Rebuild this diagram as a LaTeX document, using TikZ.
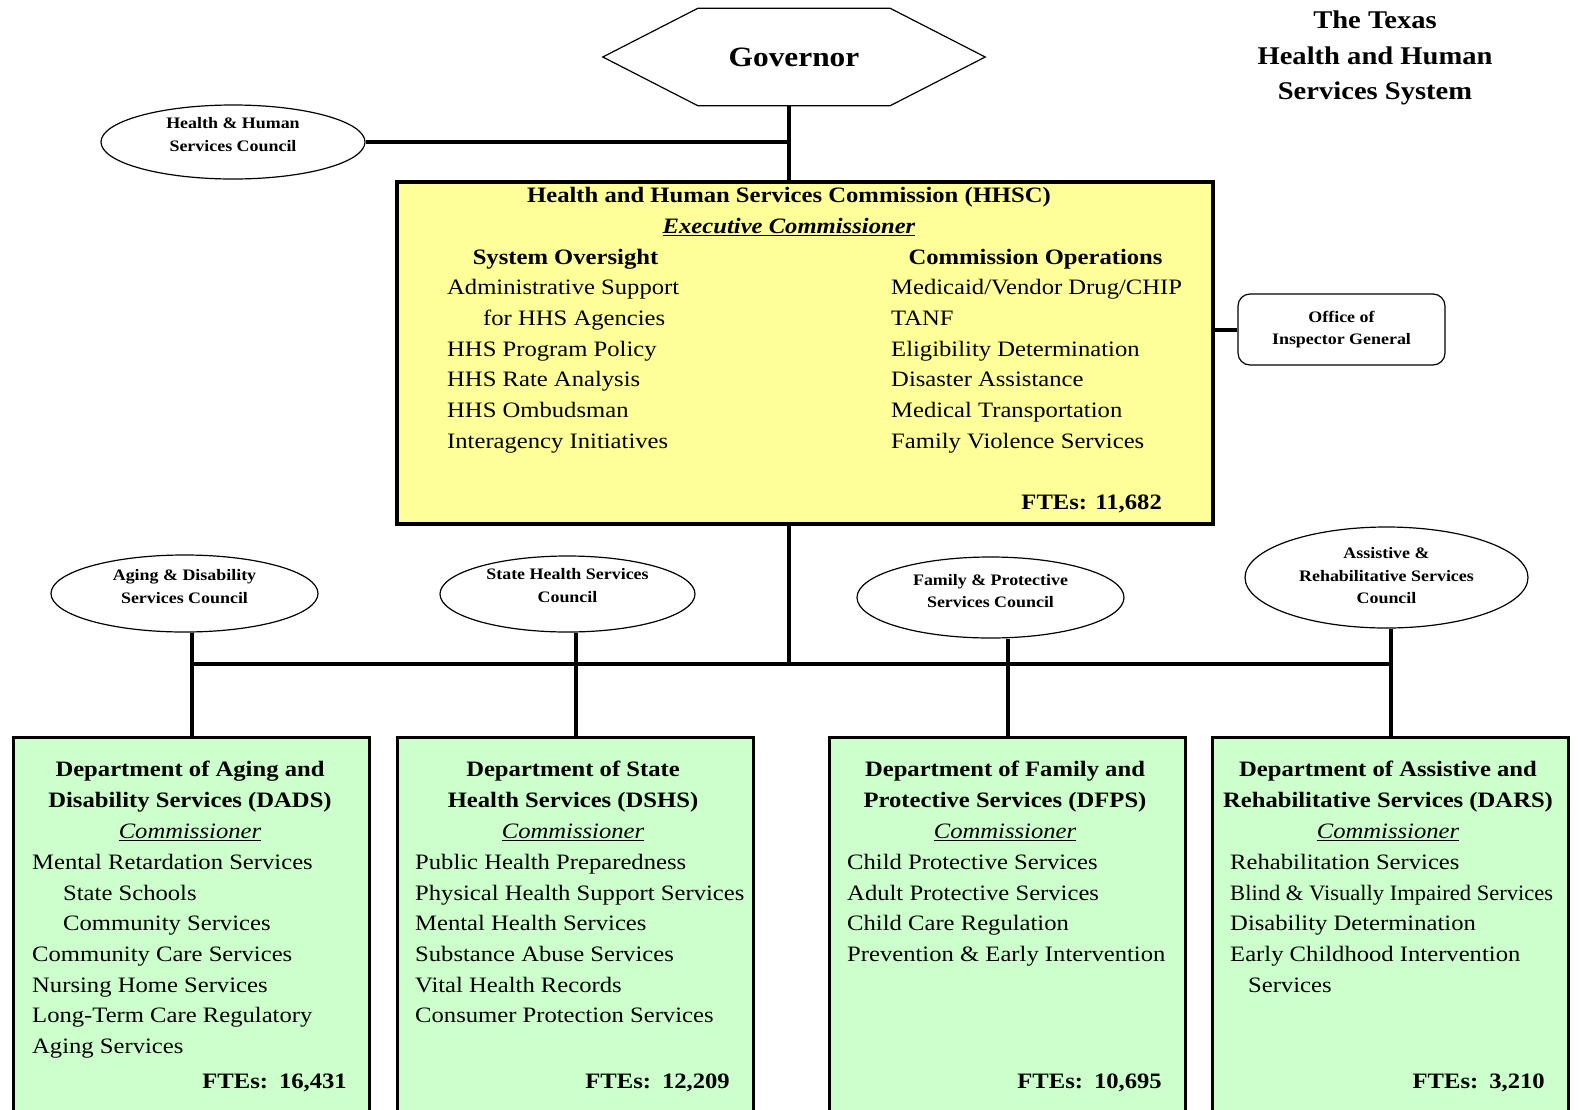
\documentclass[tikz,border=0pt]{standalone}
\usepackage{fontspec}
\usepackage{graphicx}
\setmainfont{Liberation Serif}[FakeStretch=1.12]
\usetikzlibrary{shapes.geometric}
\definecolor{hhscyellow}{HTML}{FFFF99}
\definecolor{deptgreen}{HTML}{CCFFCC}
\newcommand\bodyfs{\fontsize{22}{30.7}\selectfont}
\newcommand\smallfs{\fontsize{16}{22.5}\selectfont\bfseries}
\begin{document}
\begin{tikzpicture}[x=1pt,y=-1pt,
  conn/.style={line width=4pt},
  council/.style={ellipse,draw,line width=1.2pt,fill=white,inner sep=0pt},
  ctext/.style={font=\smallfs,align=center,inner sep=0pt},
  item/.style={anchor=base west,inner sep=0pt,font=\bodyfs},
  head/.style={anchor=base,inner sep=0pt,font=\bodyfs\bfseries},
  commr/.style={anchor=base,inner sep=0pt,font=\bodyfs\itshape},
  fte/.style={anchor=base east,inner sep=0pt,font=\bodyfs\bfseries},
  deptbox/.style={draw,line width=3pt,fill=deptgreen,minimum width=356pt,minimum height=420pt,anchor=north west,inner sep=0pt}
]
\useasboundingbox (0,0) rectangle (1579,1109);
\clip (0,0) rectangle (1579,1109);

% Governor
\node[minimum width=382pt,minimum height=97pt,inner sep=0pt,font=\fontsize{28}{34}\selectfont\bfseries] (gov) at (794,57) {Governor};
\draw[line width=1.2pt] (gov.west) -- ([xshift=95pt]gov.north west) -- ([xshift=-95pt]gov.north east) -- (gov.east) -- ([xshift=-95pt]gov.south east) -- ([xshift=95pt]gov.south west) -- cycle;
\coordinate (trunk) at (789,0);

% Title
\node[font=\fontsize{25.5}{35.5}\selectfont\bfseries,align=center,inner sep=0pt] (title) at (1375,58) {The Texas\\Health and Human\\Services System};

% HHS Council
\node[council,minimum width=264pt,minimum height=74pt] (hhscouncil) at (233,142) {};
\node[ctext] (hhscouncilt) at (233,134.5) {Health \& Human\\Services Council};

% HHSC box
\node[draw,line width=4pt,fill=hhscyellow,minimum width=816pt,minimum height=342pt,anchor=north west,inner sep=0pt] (hhsc) at (395,180) {};
\node[head] (hhsct) at (789,202.5) {Health and Human Services Commission (HHSC)};
\node[head,font=\bodyfs\bfseries\itshape] (exec) at (789,233.5) {\underline{Executive Commissioner}};
\node[head] (sysov) at (565.5,264.5) {System Oversight};
\node[head] (comop) at (1035.5,264.5) {Commission Operations};
\foreach \t [count=\i] in {Administrative Support, \hspace*{36pt}for HHS Agencies, HHS Program Policy, HHS Rate Analysis, HHS Ombudsman, Interagency Initiatives}
  \node[item] (hl\i) at (447,{294.5+30.8*(\i-1)}) {\t};
\foreach \t [count=\i] in {Medicaid/Vendor Drug/CHIP, TANF, Eligibility Determination, Disaster Assistance, Medical Transportation, Family Violence Services}
  \node[item] (hr\i) at (891,{294.5+30.8*(\i-1)}) {\t};
\node[fte] (hhscfte) at (1162,509.5) {FTEs: 11,682};

% Office of Inspector General
\node[draw,rounded corners=12pt,line width=1.2pt,minimum width=207pt,minimum height=71pt,inner sep=0pt,align=center,font=\smallfs] (oig) at (1341.5,329.5) {Office of\\Inspector General};

% Councils
\node[council,minimum width=267pt,minimum height=77pt] (adsc) at (184.5,593.5) {};
\node[ctext] (adsct) at (184.5,586.5) {Aging \& Disability\\Services Council};
\node[council,minimum width=255pt,minimum height=76pt] (shsc) at (567.5,594) {};
\node[ctext] (shsct) at (567.5,585.5) {State Health Services\\Council};
\node[council,minimum width=267pt,minimum height=81pt] (fpsc) at (990.5,597.5) {};
\node[ctext] (fpsct) at (990.5,591) {Family \& Protective\\Services Council};
\node[council,minimum width=283pt,minimum height=101pt] (arsc) at (1386.5,577.5) {};
\node[ctext] (arsct) at (1386.5,576) {Assistive \&\\Rehabilitative Services\\Council};

% Department boxes
\node[deptbox] (dads) at (12,736) {};
\node[deptbox] (dshs) at (396,736) {};
\node[deptbox] (dfps) at (828,736) {};
\node[deptbox] (dars) at (1211,736) {};

% DADS
\node[head] (dadst1) at (190,776.5) {Department of Aging and};
\node[head] (dadst2) at (190,807.5) {Disability Services (DADS)};
\node[commr] (dadsc) at (190,838.5) {\underline{Commissioner}};
\foreach \t [count=\i] in {Mental Retardation Services, \hspace*{31pt}State Schools, \hspace*{31pt}Community Services, Community Care Services, Nursing Home Services, Long-Term Care Regulatory, Aging Services}
  \node[item] (dadsi\i) at (32,{869.5+30.67*(\i-1)}) {\t};
\node[fte] (dadsfte) at (347,1088.5) {FTEs:\hspace{0.5em}16,431};

% DSHS
\node[head] (dshst1) at (573,776.5) {Department of State};
\node[head] (dshst2) at (573,807.5) {Health Services (DSHS)};
\node[commr] (dshsc) at (573,838.5) {\underline{Commissioner}};
\foreach \t [count=\i] in {Public Health Preparedness, Physical Health Support Services, Mental Health Services, Substance Abuse Services, Vital Health Records, Consumer Protection Services}
  \node[item] (dshsi\i) at (415,{869.5+30.67*(\i-1)}) {\t};
\node[fte] (dshsfte) at (730,1088.5) {FTEs:\hspace{0.5em}12,209};

% DFPS
\node[head] (dfpst1) at (1005,776.5) {Department of Family and};
\node[head] (dfpst2) at (1005,807.5) {Protective Services (DFPS)};
\node[commr] (dfpsc) at (1005,838.5) {\underline{Commissioner}};
\foreach \t [count=\i] in {Child Protective Services, Adult Protective Services, Child Care Regulation, Prevention \& Early Intervention}
  \node[item] (dfpsi\i) at (847,{869.5+30.67*(\i-1)}) {\t};
\node[fte] (dfpsfte) at (1162,1088.5) {FTEs:\hspace{0.5em}10,695};

% DARS
\node[head] (darst1) at (1388,776.5) {Department of Assistive and};
\node[head] (darst2) at (1388,807.5) {Rehabilitative Services (DARS)};
\node[commr] (darsc) at (1388,838.5) {\underline{Commissioner}};
\foreach \t [count=\i] in {Rehabilitation Services, \scalebox{0.915}[1]{Blind \& Visually Impaired Services}, Disability Determination, Early Childhood Intervention, \hspace*{18pt}Services}
  \node[item] (darsi\i) at (1230,{869.5+30.67*(\i-1)}) {\t};
\node[fte] (darsfte) at (1545,1088.5) {FTEs:\hspace{0.5em}3,210};

% Connectors
\coordinate (bus) at (789,664);
\draw[conn] (gov.south -| trunk) -- (hhsc.north -| trunk);
\draw[conn] (hhscouncil.east) -- (hhscouncil.east -| trunk);
\draw[conn] (oig.west) -- (oig.west -| hhsc.east);
\draw[conn] (hhsc.south -| trunk) -- (bus);
\draw[conn] (bus -| dads.north) -- (bus -| dars.north);
\draw[conn] (adsc.south -| dads.north) -- (dads.north);
\draw[conn] (shsc.south -| dshs.north) -- (dshs.north);
\draw[conn] (fpsc.south -| dfps.north) -- (dfps.north);
\draw[conn] (arsc.south -| dars.north) -- (dars.north);
\end{tikzpicture}
\end{document}
